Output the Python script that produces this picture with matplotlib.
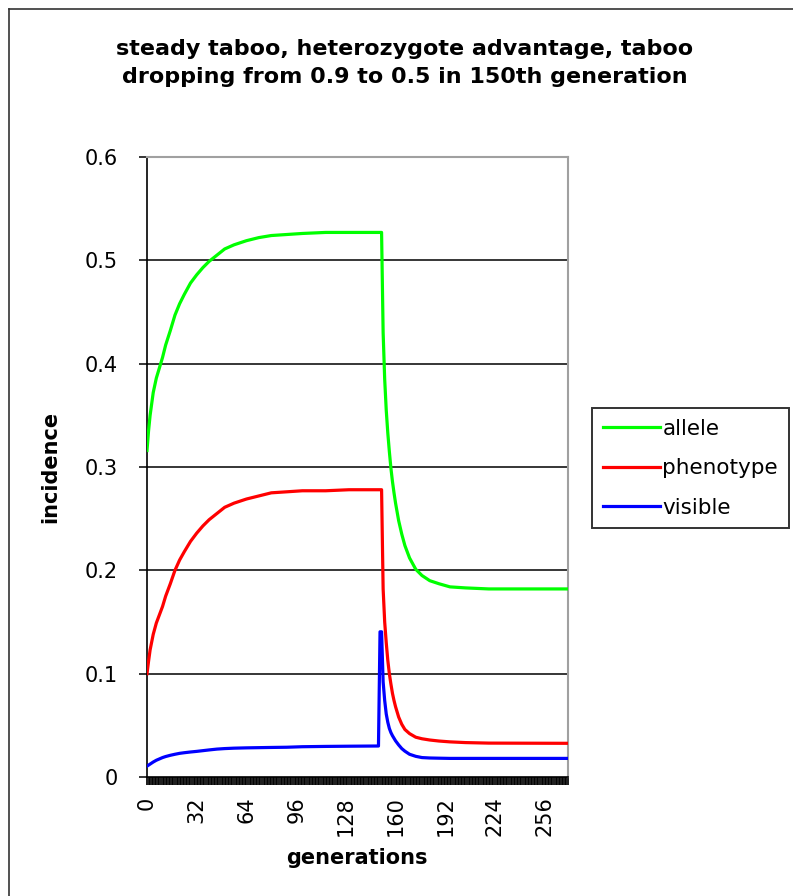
import matplotlib
matplotlib.use("Agg")
import matplotlib.pyplot as plt
from matplotlib.lines import Line2D
from matplotlib.ticker import MultipleLocator

plt.rcParams["font.family"] = ["DejaVu Sans"]

# Generation numbers at which the series were recorded
generations = [0, 1, 2, 4, 6, 8, 10, 12, 15, 18, 21, 24, 28, 32, 36, 40, 45, 50,
               56, 64, 72, 80, 90, 100, 115, 130, 149, 150, 151, 152, 153, 154,
               155, 156, 157, 158, 159, 160, 162, 164, 166, 169, 173, 177, 182,
               188, 195, 205, 220, 271]

allele = [0.316, 0.335, 0.350, 0.372, 0.386, 0.396, 0.406, 0.418, 0.432, 0.447,
          0.458, 0.467, 0.478, 0.486, 0.493, 0.499, 0.505, 0.511, 0.515, 0.519,
          0.522, 0.524, 0.525, 0.526, 0.527, 0.527, 0.527, 0.527, 0.527, 0.430,
          0.385, 0.355, 0.333, 0.315, 0.299, 0.286, 0.275, 0.265, 0.248, 0.235,
          0.224, 0.212, 0.201, 0.195, 0.190, 0.187, 0.184, 0.183, 0.182, 0.182]

phenotype = [0.100, 0.112, 0.123, 0.138, 0.149, 0.157, 0.165, 0.175, 0.187, 0.200,
             0.210, 0.218, 0.228, 0.236, 0.243, 0.249, 0.255, 0.261, 0.265, 0.269,
             0.272, 0.275, 0.276, 0.277, 0.277, 0.278, 0.278, 0.278, 0.278, 0.182,
             0.150, 0.130, 0.113, 0.100, 0.090, 0.081, 0.074, 0.068, 0.058, 0.051,
             0.046, 0.042, 0.0385, 0.037, 0.0358, 0.0348, 0.034, 0.0333, 0.0328, 0.0326]

visible = [0.0105, 0.0115, 0.0125, 0.0145, 0.0162, 0.0175, 0.0188, 0.0198, 0.0210,
           0.0220, 0.0229, 0.0235, 0.0242, 0.0248, 0.0255, 0.0262, 0.0270, 0.0275,
           0.0279, 0.0282, 0.0284, 0.0286, 0.0288, 0.0293, 0.0296, 0.0298, 0.0300,
           0.1405, 0.1405, 0.092, 0.074, 0.061, 0.053, 0.047, 0.043, 0.040, 0.0375,
           0.035, 0.031, 0.0275, 0.025, 0.022, 0.020, 0.0188, 0.0184, 0.0182,
           0.0180, 0.0180, 0.0180, 0.0180]

series_names = ["allele", "phenotype", "visible"]
series_colors = ["#00ff00", "#ff0000", "#0000ff"]

y_ticks = [0.0, 0.1, 0.2, 0.3, 0.4, 0.5, 0.6]
y_tick_labels = ["0", "0.1", "0.2", "0.3", "0.4", "0.5", "0.6"]
x_ticks = [0, 32, 64, 96, 128, 160, 192, 224, 256]
x_tick_labels = ["0", "32", "64", "96", "128", "160", "192", "224", "256"]
x_last = 271

title = "steady taboo, heterozygote advantage, taboo\ndropping from 0.9 to 0.5 in 150th generation"

W, H = 793, 896
fig = plt.figure(figsize=(W / 100, H / 100), dpi=100)
fig.patch.set_facecolor("white")

# outer chart-area border (left and top edges)
fig.add_artist(Line2D([9 / W, 9 / W], [0, 1 - 9 / H], transform=fig.transFigure,
                      color="#333333", lw=1.2))
fig.add_artist(Line2D([9 / W, 1], [1 - 9 / H, 1 - 9 / H], transform=fig.transFigure,
                      color="#333333", lw=1.2))

ax = fig.add_axes([147 / W, 1 - 777 / H, (568 - 147) / W, (777 - 157) / H])
ax.set_facecolor("white")

for yv in y_ticks[1:-1]:
    ax.axhline(yv, color="black", lw=1.1, zorder=1)

for vals, name, col in zip([allele, phenotype, visible], series_names, series_colors):
    ax.plot(generations, vals, color=col, lw=2.3, label=name, zorder=3)

ax.set_xlim(0, x_last)
ax.set_ylim(0, 0.6)
ax.set_yticks(y_ticks)
ax.set_yticklabels(y_tick_labels)
ax.set_xticks(x_ticks)
ax.set_xticklabels(x_tick_labels, rotation=90)
ax.xaxis.set_minor_locator(MultipleLocator(1))

ax.tick_params(axis="x", which="both", length=6, width=1.25, direction="out",
               pad=8, labelsize=15, colors="black")
ax.tick_params(axis="y", which="major", length=6, width=1.1, direction="out",
               pad=15, labelsize=15, colors="black")
ax.tick_params(axis="y", which="minor", length=0)

for side in ["left", "bottom"]:
    ax.spines[side].set_color("black")
    ax.spines[side].set_linewidth(1.2)
for side in ["top", "right"]:
    ax.spines[side].set_color("#a0a0a0")
    ax.spines[side].set_linewidth(1.5)

fig.text(405 / W, 1 - 63 / H, title, ha="center", va="center", fontsize=16,
         fontweight="bold", linespacing=1.45)
fig.text(50 / W, 1 - 467 / H, "incidence", rotation=90, ha="center", va="center",
         fontsize=15, fontweight="bold")
fig.text(357 / W, 1 - 858 / H, "generations", ha="center", va="center",
         fontsize=15, fontweight="bold")

leg = ax.legend(loc="upper left", bbox_to_anchor=(592 / W, 1 - 408 / H),
                bbox_transform=fig.transFigure, borderaxespad=0, fontsize=15.5,
                frameon=True, fancybox=False, shadow=False, handlelength=2.65,
                handletextpad=0.12, borderpad=0.5, labelspacing=0.9)
leg.get_frame().set_edgecolor("black")
leg.get_frame().set_linewidth(1.4)
for line in leg.get_lines():
    line.set_linewidth(2.3)

fig.savefig("out.png", dpi=100)
